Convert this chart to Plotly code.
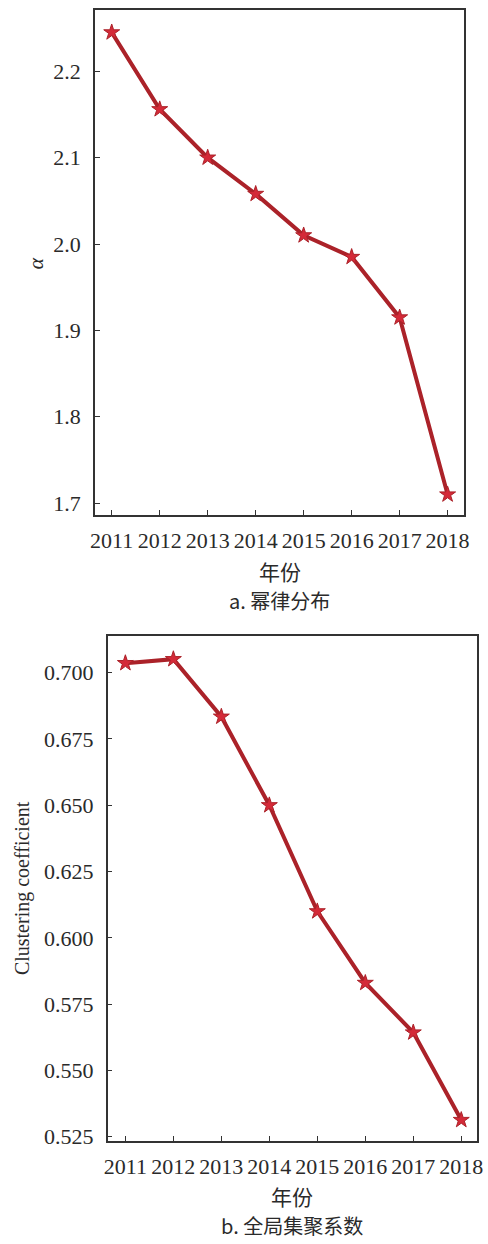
import plotly.graph_objects as go

# Year axis shared by both panels
years = [2011, 2012, 2013, 2014, 2015, 2016, 2017, 2018]

# Panel a: power-law exponent alpha per year
alpha = [2.245, 2.156, 2.100, 2.058, 2.010, 1.985, 1.915, 1.710]

# Panel b: global clustering coefficient per year
clustering = [0.7036, 0.7051, 0.6834, 0.6500, 0.6100, 0.5830, 0.5643, 0.5313]

alpha_ticks = [1.7, 1.8, 1.9, 2.0, 2.1, 2.2]
alpha_ticktext = ["1.7", "1.8", "1.9", "2.0", "2.1", "2.2"]
clust_ticks = [0.525, 0.55, 0.575, 0.6, 0.625, 0.65, 0.675, 0.7]
clust_ticktext = ["0.525", "0.550", "0.575", "0.600", "0.625", "0.650", "0.675", "0.700"]

W, H = 488, 1244
LINE = "#ab2229"
MARK = "#d42a38"
AXC = "#333333"
SERIF = "Liberation Serif"
CJK = "Noto Sans CJK SC"

fig = go.Figure()

trace_style = dict(
    mode="lines+markers",
    line=dict(color=LINE, width=4),
    marker=dict(symbol="star", size=12, color=MARK, line=dict(color=LINE, width=1)),
    showlegend=False,
    hoverinfo="x+y",
)

fig.add_trace(go.Scatter(x=years, y=alpha, xaxis="x", yaxis="y", **trace_style))
fig.add_trace(go.Scatter(x=years, y=clustering, xaxis="x2", yaxis="y2", **trace_style))


def px_x(a, b):
    return [a / W, b / W]


def px_y(top, bottom):
    return [1 - bottom / H, 1 - top / H]


axis_common = dict(
    showline=True, linecolor=AXC, linewidth=1.5, mirror=True,
    ticks="inside", ticklen=5, tickwidth=1.3, tickcolor=AXC,
    showgrid=False, zeroline=False,
    tickfont=dict(family=SERIF, size=22, color="#2a2a2a"),
)
x_common = dict(ticklabelstandoff=5, **axis_common)
y_common = dict(ticklabelstandoff=8, **axis_common)

fig.update_layout(
    width=W, height=H,
    margin=dict(l=0, r=0, t=0, b=0),
    paper_bgcolor="white", plot_bgcolor="white",
    xaxis=dict(domain=px_x(92, 470), range=[2010.65, 2018.35],
               tickvals=years, ticktext=[str(y) for y in years],
               anchor="y", **x_common),
    yaxis=dict(domain=px_y(10, 519), range=[1.686, 2.271],
               tickvals=alpha_ticks, ticktext=alpha_ticktext,
               anchor="x", **y_common),
    xaxis2=dict(domain=px_x(105, 483), range=[2010.63, 2018.33],
                tickvals=years, ticktext=[str(y) for y in years],
                anchor="y2", **x_common),
    yaxis2=dict(domain=px_y(641, 1149), range=[0.5235, 0.7137],
                tickvals=clust_ticks, ticktext=clust_ticktext,
                anchor="x2", **y_common),
)


def label(text, x, y, font, size, angle=0):
    fig.add_annotation(
        text=text, x=x / W, y=1 - y / H, xref="paper", yref="paper",
        showarrow=False, textangle=angle,
        font=dict(family=font, size=size, color="#2a2a2a"),
        xanchor="center", yanchor="middle",
    )


# Axis titles and panel captions
label("<i>α</i>", 31, 265, SERIF, 22, -90)
label("年份", 281, 575, CJK, 21)
label("a. 幂律分布", 281, 605, CJK, 20)

label("Clustering coefficient", 18, 895, SERIF, 20, -90)
label("年份", 294, 1205, CJK, 21)
label("b. 全局集聚系数", 294, 1234, CJK, 20)

fig.write_html("out.html")
